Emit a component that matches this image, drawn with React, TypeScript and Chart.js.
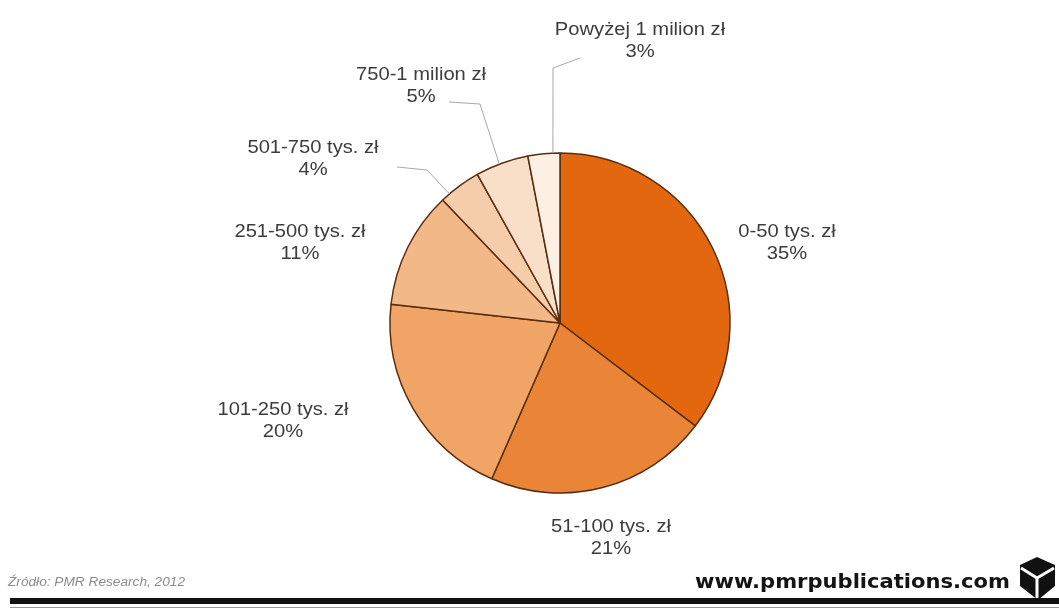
import React, { useEffect, useRef } from "react";
import { Chart, registerables } from "chart.js";

Chart.register(...registerables);

// ---- data ----
const categories = [
  "0-50 tys. zł",
  "51-100 tys. zł",
  "101-250 tys. zł",
  "251-500 tys. zł",
  "501-750 tys. zł",
  "750-1 milion zł",
  "Powyżej 1 milion zł",
];
const shares = [35, 21, 20, 11, 4, 5, 3];
const sourceText = "Źródło: PMR Research, 2012";
const siteText = "www.pmrpublications.com";

// ---- styles / layout ----
const sliceColors = ["#E3670F", "#EA8537", "#F0A466", "#F3B888", "#F6CDAB", "#F9DFC8", "#FCEFE4"];
const labelCenters: number[][] = [
  [787, 232],
  [611, 527],
  [283, 410],
  [300, 232],
  [313, 148],
  [421, 75],
  [640, 30],
];
// leader lines: fraction within slice where the line leaves the pie, then elbow points
const leaderAnchor = [0, 0, 0, 0, 0.21, 0.45, 0.78];
const leaderPoints: (number[][] | null)[] = [
  null,
  null,
  null,
  null,
  [[427, 170], [397, 167]],
  [[480, 104], [449, 102]],
  [[553, 68], [580, 58]],
];

const labelPlugin = {
  id: "labelPlugin",
  afterDraw(chart: any) {
    const ctx = chart.ctx as CanvasRenderingContext2D;
    const meta = chart.getDatasetMeta(0);
    ctx.save();
    // leader lines
    ctx.strokeStyle = "#a8a8a8";
    ctx.lineWidth = 1;
    meta.data.forEach((arc: any, i: number) => {
      const pts = leaderPoints[i];
      if (!pts) return;
      const a = arc.startAngle + (arc.endAngle - arc.startAngle) * leaderAnchor[i];
      const sx = arc.x + Math.cos(a) * arc.outerRadius;
      const sy = arc.y + Math.sin(a) * arc.outerRadius;
      ctx.beginPath();
      ctx.moveTo(sx, sy);
      pts.forEach((p) => ctx.lineTo(p[0], p[1]));
      ctx.stroke();
    });
    // labels
    ctx.fillStyle = "#3c3c3c";
    ctx.font = "18px 'Liberation Sans', Arial, sans-serif";
    ctx.textAlign = "center";
    ctx.textBaseline = "middle";
    const sx = 1.12;
    categories.forEach((c, i) => {
      const [cx, cy] = labelCenters[i];
      ctx.save();
      ctx.translate(cx, 0);
      ctx.scale(sx, 1);
      ctx.fillText(c, 0, cy);
      ctx.fillText(shares[i] + "%", 0, cy + 22);
      ctx.restore();
    });

    // footer: source
    const fitLeft = (text: string, left: number, y: number, width: number) => {
      const w = ctx.measureText(text).width;
      ctx.save();
      ctx.translate(left, y);
      ctx.scale(width / w, 1);
      ctx.textAlign = "left";
      ctx.fillText(text, 0, 0);
      ctx.restore();
    };
    ctx.fillStyle = "#8c8c8c";
    ctx.font = "italic 12px 'Liberation Sans', Arial, sans-serif";
    fitLeft(sourceText, 8, 583, 177);

    ctx.fillStyle = "#141414";
    ctx.font = "bold 19px 'DejaVu Sans', Arial, sans-serif";
    fitLeft(siteText, 695, 583, 315);

    // logo
    ctx.fillStyle = "#111";
    ctx.beginPath();
    ctx.moveTo(1020, 565);
    ctx.lineTo(1037, 557);
    ctx.lineTo(1055, 565);
    ctx.lineTo(1055, 586);
    ctx.lineTo(1038, 600);
    ctx.lineTo(1020, 586);
    ctx.closePath();
    ctx.fill();
    ctx.strokeStyle = "#fff";
    ctx.lineWidth = 3;
    ctx.beginPath();
    ctx.moveTo(1037, 578);
    ctx.lineTo(1021, 568);
    ctx.moveTo(1037, 578);
    ctx.lineTo(1054, 568);
    ctx.moveTo(1037, 578);
    ctx.lineTo(1037, 600);
    ctx.stroke();

    // bottom rules
    ctx.fillStyle = "#111";
    ctx.fillRect(10, 598, 1049, 6);
    ctx.fillStyle = "#999";
    ctx.fillRect(10, 607, 1049, 1);
    ctx.restore();
  },
};

export default function App() {
  const ref = useRef<HTMLCanvasElement | null>(null);
  useEffect(() => {
    document.body.style.margin = "0";
    const canvas = ref.current;
    if (!canvas) return;
    const chart = new Chart(canvas, {
      type: "pie",
      data: {
        labels: categories,
        datasets: [
          {
            data: shares,
            backgroundColor: sliceColors,
            borderColor: "#5a2d10",
            borderWidth: 1.5,
            radius: 170,
          } as any,
        ],
      },
      options: {
        responsive: false,
        animation: false,
        layout: { padding: { left: 81, right: 20, top: 56, bottom: 20 } },
        plugins: {
          legend: { display: false },
          tooltip: { enabled: false },
        },
      },
      plugins: [labelPlugin],
    });
    return () => chart.destroy();
  }, []);
  return (
    <div style={{ width: 1059, height: 610, background: "#fff" }}>
      <canvas ref={ref} width={1059} height={610} />
    </div>
  );
}
